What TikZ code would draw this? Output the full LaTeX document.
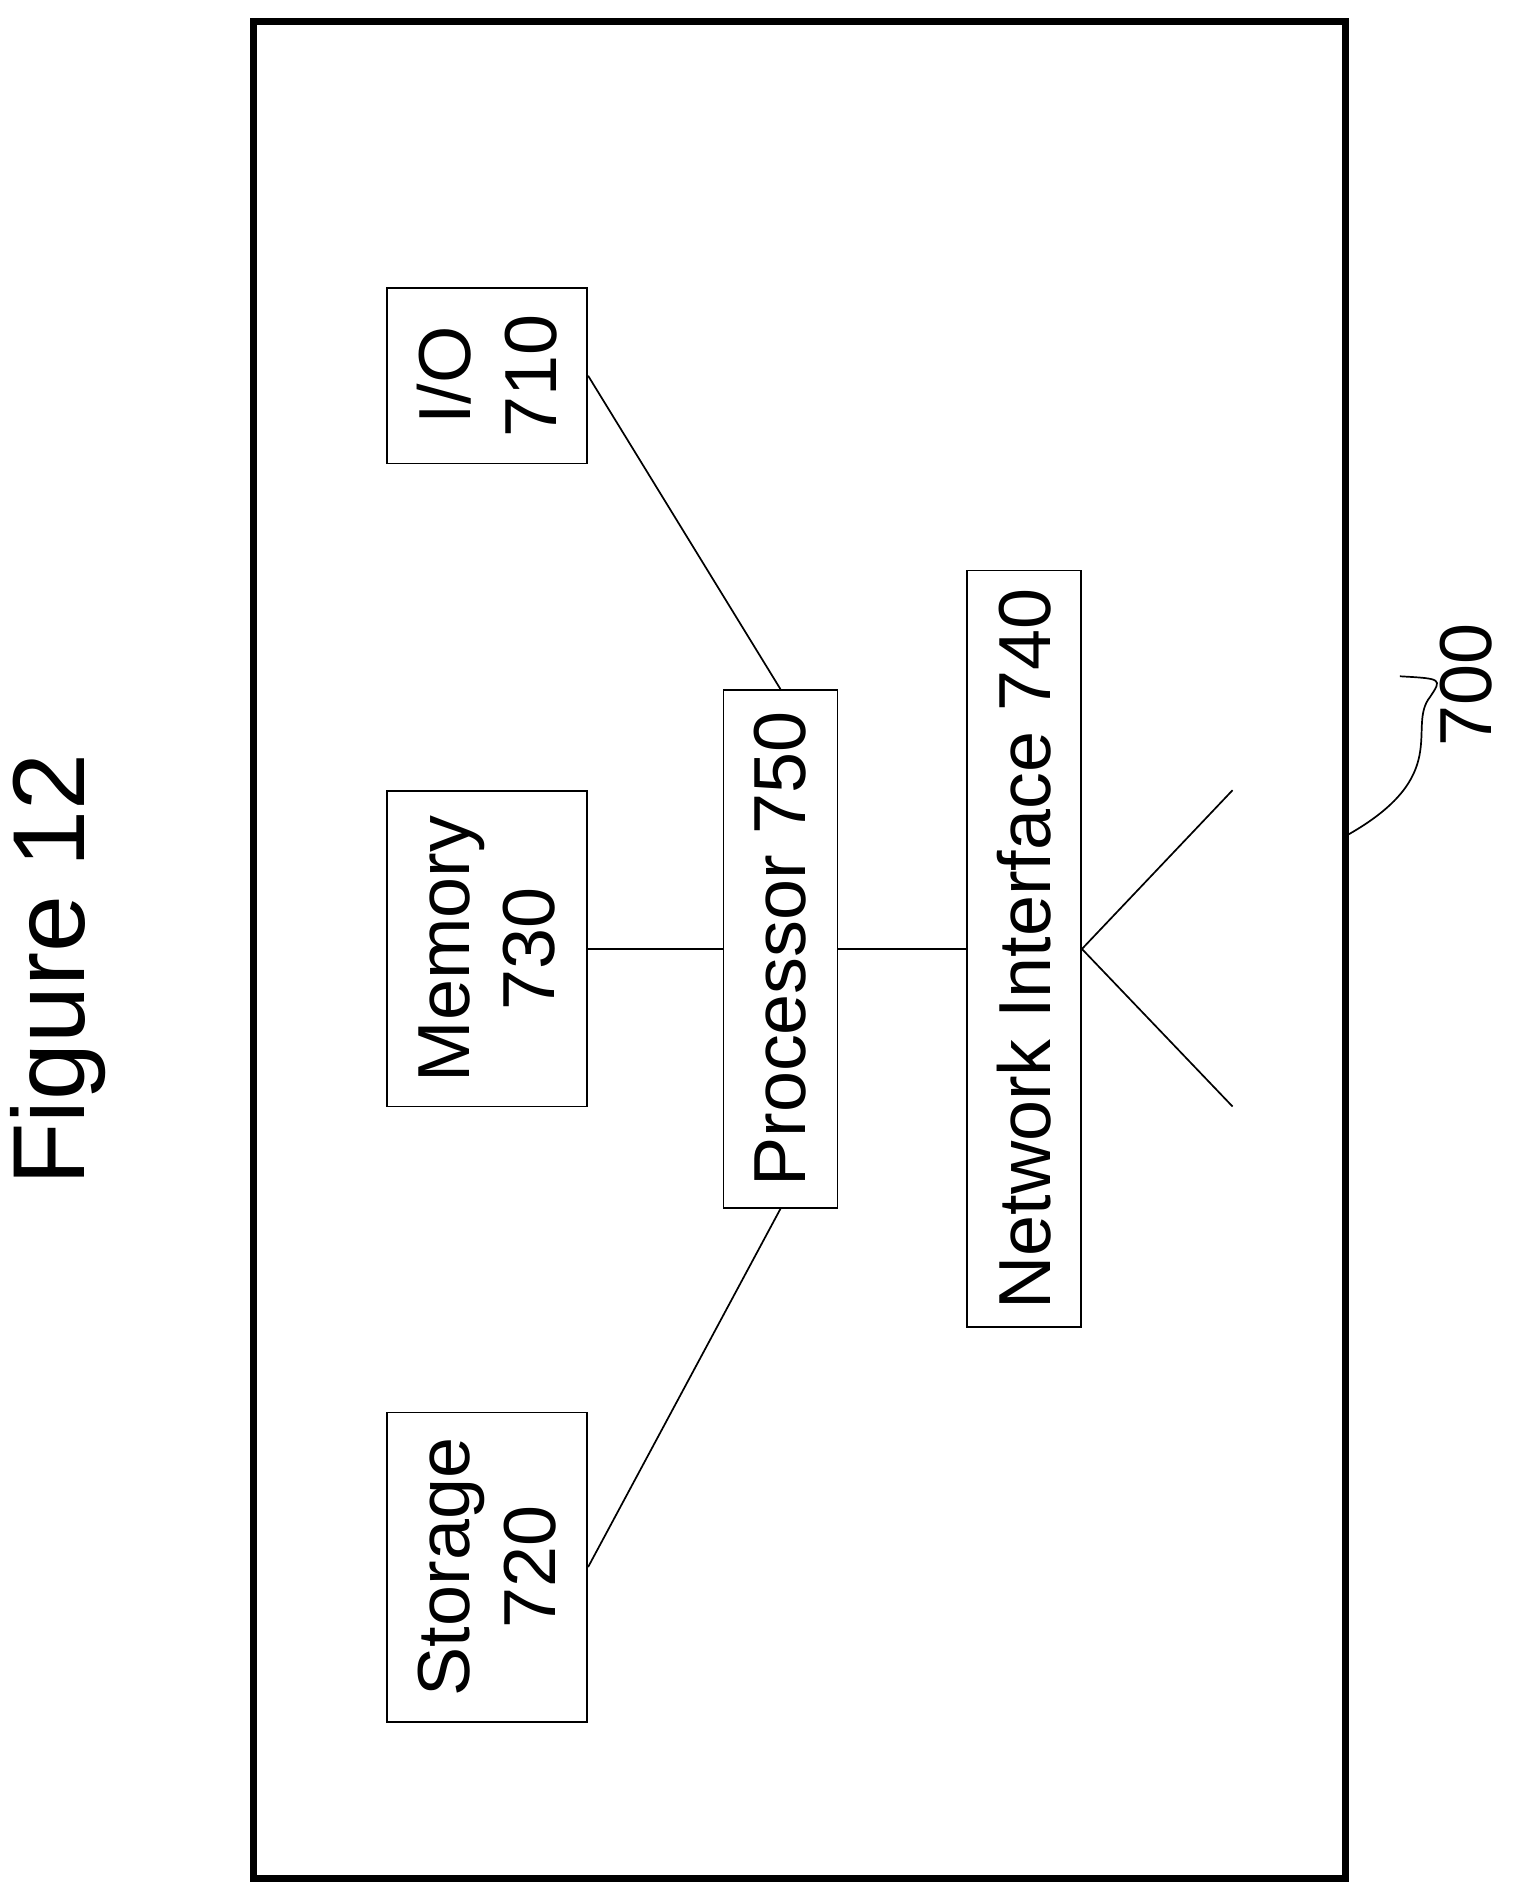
\documentclass[tikz,border=0pt]{standalone}
\usepackage{fontspec}
\setmainfont{Liberation Sans}
\usetikzlibrary{positioning}
\tikzset{
  blk/.style={draw,thin,rotate=90,align=center,font=\fontsize{17.3}{20}\selectfont,inner sep=0pt},
  wire/.style={draw,thin}
}
\begin{document}
\begin{tikzpicture}[x=0.01cm,y=-0.01cm]
\useasboundingbox (0,0) rectangle (1250,1557);
\draw[line width=1.6pt] (209,18) rectangle (1110,1550);
\node[rotate=90,font=\fontsize{24}{28}\selectfont] (fig) at (48,800) {Figure 12};
% blocks
\node[blk,minimum width=1.45cm,minimum height=1.65cm] (io) at (402,310) {I/O\\710};
\node[blk,minimum width=2.6cm,minimum height=1.65cm] (mem) at (402,783) {Memory\\730};
\node[blk,minimum width=2.55cm,minimum height=1.65cm] (sto) at (402,1293) {Storage\\720};
\node[blk,minimum width=4.27cm,minimum height=0.94cm] (cpu) at (644,783) {Processor 750};
\node[blk,minimum width=6.24cm,minimum height=0.94cm] (net) at (845,783) {Network Interface 740};
% connectors
\draw[wire] (io.south) -- (cpu.east);
\draw[wire] (mem) -- (cpu);
\draw[wire] (cpu) -- (net);
\draw[wire] (sto.south) -- (cpu.west);
% antenna
\coordinate (ant1) at (1017,652);
\coordinate (ant2) at (1017,913);
\draw[wire] (ant1) -- (net.south) -- (ant2);
% reference label
\node[rotate=90,font=\fontsize{17.3}{20}\selectfont] (ref) at (1210,565) {700};
\coordinate (refend) at (1110,690);
\draw[thin] (refend) .. controls (1200,640) and (1160,600) .. (1180,575) .. controls (1190,560) .. (1155,558);
\end{tikzpicture}
\end{document}
